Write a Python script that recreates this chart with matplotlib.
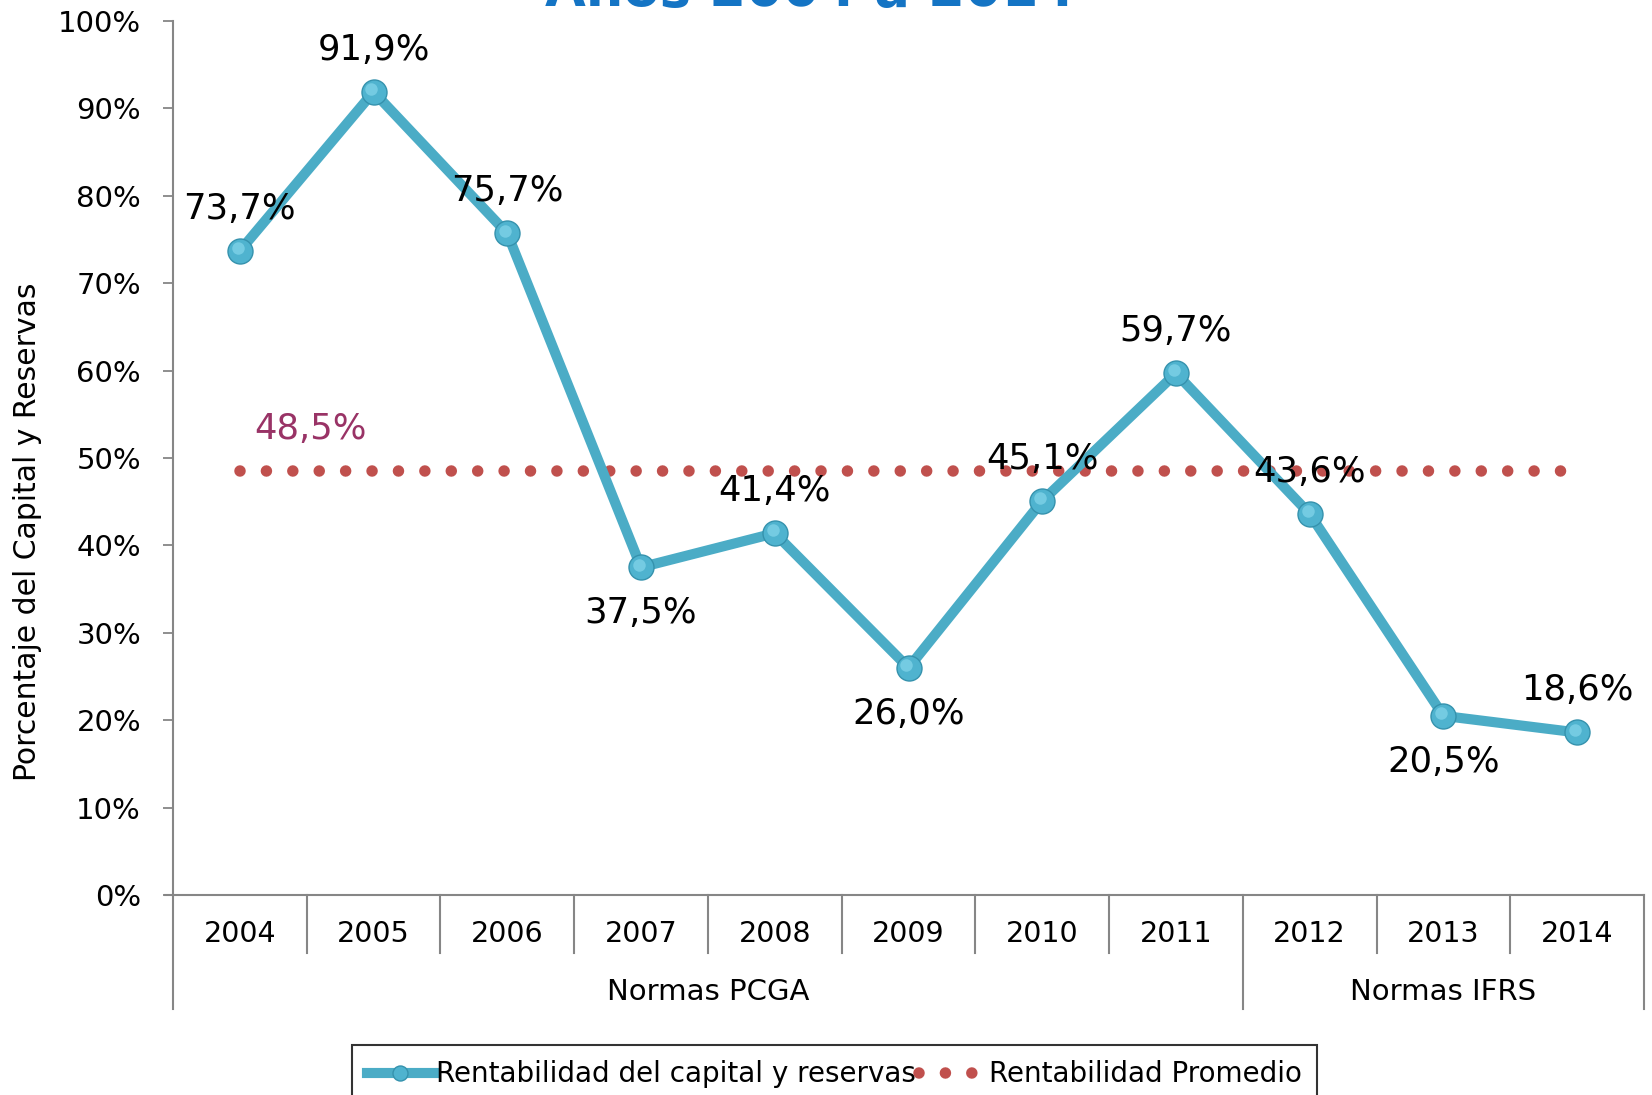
import numpy as np
import matplotlib
matplotlib.use("Agg")
import matplotlib.pyplot as plt
import matplotlib.transforms as mtransforms

# data
years = ["2004", "2005", "2006", "2007", "2008", "2009", "2010", "2011", "2012", "2013", "2014"]
rentabilidad = [73.7, 91.9, 75.7, 37.5, 41.4, 26.0, 45.1, 59.7, 43.6, 20.5, 18.6]
promedio = [48.5, 48.5, 48.5, 48.5, 48.5, 48.5, 48.5, 48.5, 48.5, 48.5, 48.5]
label_below = [False, False, False, True, False, True, False, False, False, True, False]
groups = ["Normas PCGA", "Normas IFRS"]
group_sizes = [8, 3]

line_color = "#4bacc6"
dot_color = "#c0504d"
axis_color = "#868686"

plt.rcParams["font.family"] = ["DejaVu Sans"]

fig = plt.figure(figsize=(16.52, 10.95), dpi=100)
ax = fig.add_axes([0.1047, 0.1826, 0.8905, 0.7982])

x = np.arange(len(years))

# average line (round dots)
ax.plot(x, promedio, color=dot_color, lw=8.3, linestyle=(0, (0.001, 2.29)),
        dash_capstyle="round", zorder=2, label="Rentabilidad Promedio")

# main series
ax.plot(x, rentabilidad, color=line_color, lw=7.3, marker="o", ms=18,
        markerfacecolor="#4fb3cf", markeredgecolor="#3592ad", mew=1.0,
        zorder=3, label="Rentabilidad del capital y reservas")
# soft highlight on the spheres
hl = mtransforms.offset_copy(ax.transData, fig=fig, x=-1.5, y=2, units="points")
ax.plot(x, rentabilidad, linestyle="none", marker="o", ms=9,
        markerfacecolor="#74cbe2", markeredgecolor="none", transform=hl, zorder=4)

for xi, v, below in zip(x, rentabilidad, label_below):
    txt = f"{v:.1f}%".replace(".", ",")
    off = -46 if below else 42
    ax.annotate(txt, (xi, v), xytext=(0, off), textcoords="offset pixels",
                ha="center", va="center", fontsize=25.5, color="black", zorder=5)

avg_txt = f"{promedio[0]:.1f}%".replace(".", ",")
ax.annotate(avg_txt, (0.53, promedio[0]), xytext=(0, 42), textcoords="offset pixels",
            ha="center", va="center", fontsize=25.5, color="#993366", zorder=5)

ax.set_xlim(-0.5, len(years) - 0.5)
ax.set_ylim(0, 100)
ax.set_yticks(np.arange(0, 101, 10))
ax.set_yticklabels([f"{t}%" for t in range(0, 101, 10)])
ax.tick_params(axis="y", length=7, width=1.3, color=axis_color, pad=16, labelsize=21)

ax.set_xticks(x)
ax.set_xticklabels(years)
ax.tick_params(axis="x", length=0, pad=28, labelsize=20.5)
for lbl in ax.get_xticklabels():
    lbl.set_va("center")

for side in ["top", "right"]:
    ax.spines[side].set_visible(False)
for side in ["left", "bottom"]:
    ax.spines[side].set_color(axis_color)
    ax.spines[side].set_linewidth(1.5)

# category separators below axis
tr = mtransforms.blended_transform_factory(ax.transData, ax.transAxes)
bounds = np.arange(len(years) + 1) - 0.5
group_edges = np.concatenate([[0], np.cumsum(group_sizes)]) - 0.5
for b in bounds:
    depth = -0.130 if b in group_edges else -0.0664
    ax.plot([b, b], [0, depth], color=axis_color, lw=1.5, transform=tr, clip_on=False)
ax.plot([-0.5, -0.5 - 0.06], [0, 0], color=axis_color, lw=1.5, transform=tr, clip_on=False)

for g, a, b in zip(groups, group_edges[:-1], group_edges[1:]):
    ax.text((a + b) / 2, -0.111, g, transform=tr, ha="center", va="center", fontsize=21)

fig.text(28 / 1652, 1 - 532 / 1095, "Porcentaje del Capital y Reservas", rotation=90,
         ha="center", va="center", fontsize=21.5)

fig.text(810 / 1652, 1 - 6 / 1095, "Años 2004 a 2014", ha="center", va="baseline",
         fontsize=38, fontweight="bold", color="#1474c4")

h, l = ax.get_legend_handles_labels()
leg = fig.legend(h[::-1], l[::-1], loc="upper center", bbox_to_anchor=(0.505, 0.0457),
                 ncol=2, fontsize=20, frameon=True, fancybox=False, handlelength=2.4,
                 handletextpad=0.1, columnspacing=0.1, borderpad=0.55, borderaxespad=0,
                 markerscale=0.6)
leg.get_frame().set_edgecolor("black")
leg.get_frame().set_linewidth(1.5)

fig.savefig("out.png", dpi=100)
